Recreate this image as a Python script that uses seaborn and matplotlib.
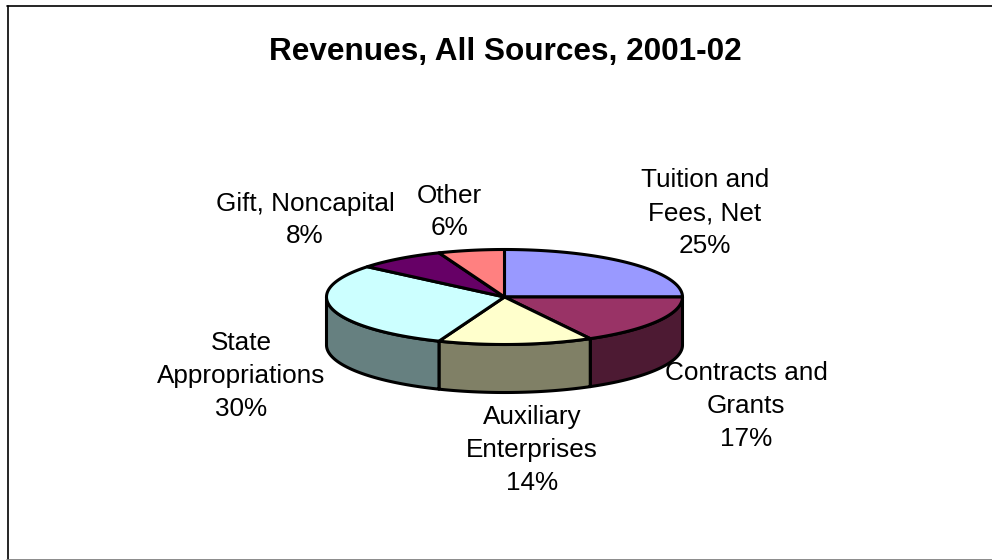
import numpy as np
import matplotlib
matplotlib.use("Agg")
import matplotlib.pyplot as plt
from matplotlib.lines import Line2D
from matplotlib.patches import Polygon
import seaborn as sns

# Revenue shares, clockwise from twelve o'clock
categories = ["Tuition and\nFees, Net", "Contracts and\nGrants", "Auxiliary\nEnterprises",
              "State\nAppropriations", "Gift, Noncapital", "Other"]
shares = [25, 17, 14, 30, 8, 6]
top_colors = ["#9999FF", "#993366", "#FFFFCC", "#CCFFFF", "#660066", "#FF8080"]
title = "Revenues, All Sources, 2001-02"

W, H = 992, 560
CX, CY, RX, RY = 504.5, 297, 178, 47.5
DEPTH_PX = 48
label_centres = [(705, 213), (746, 406), (532, 450), (241, 376), (305, 220), (449, 212)]

sns.set_theme(style="white")
plt.rcParams["font.family"] = ["Liberation Sans", "DejaVu Sans"]
palette = sns.color_palette(top_colors)
side_palette = [tuple(c * 0.5 for c in col) for col in palette]

fig = plt.figure(figsize=(W / 100, H / 100), dpi=100, facecolor="white")
ax = fig.add_axes([(CX - RX) / W, 1 - (CY + RY) / H, 2 * RX / W, 2 * RY / H])
ax.set_xlim(-1, 1)
ax.set_ylim(-1, 1)
ax.axis("off")
depth = DEPTH_PX / RY
EDGE = dict(edgecolor="black", linewidth=2.2, joinstyle="round", clip_on=False)


def rim(a0, a1):
    t = np.radians(np.linspace(a0, a1, max(int(abs(a1 - a0)) * 2, 2)))
    return np.column_stack([np.sin(t), np.cos(t)])


edges = np.cumsum([0] + shares) / sum(shares) * 360

# Outer wall: only the front half of the cylinder faces the viewer
for i in range(len(shares)):
    a0, a1 = max(edges[i], 90), min(edges[i + 1], 270)
    if a1 <= a0:
        continue
    upper = rim(a0, a1)
    lower = upper[::-1] - [0, depth]
    ax.add_patch(Polygon(np.vstack([upper, lower]), closed=True,
                         facecolor=side_palette[i], zorder=2, **EDGE))

# Top face
for i in range(len(shares)):
    pts = np.vstack([[0, 0], rim(edges[i], edges[i + 1])])
    ax.add_patch(Polygon(pts, closed=True, facecolor=palette[i], zorder=3, **EDGE))

fig.text(505 / W, 1 - 52 / H, title, ha="center", va="center",
         fontsize=22.7, fontweight="bold", color="black")

for name, share, (x, y) in zip(categories, shares, label_centres):
    fig.text(x / W, 1 - y / H, f"{name}\n{share}%", ha="center", va="center",
             fontsize=18.8, color="black", linespacing=1.46, multialignment="center")

# Chart-area border (left and top dark, bottom lighter)
fig.add_artist(Line2D([7.5 / W, 7.5 / W], [1 - 5.5 / H, 1 - 559 / H], color="black", lw=1.2))
fig.add_artist(Line2D([7 / W, 1], [1 - 5.5 / H, 1 - 5.5 / H], color="black", lw=1.2))
fig.add_artist(Line2D([7 / W, 1], [1 - 559.5 / H, 1 - 559.5 / H], color="#777777", lw=1.2))

fig.savefig("out.png", dpi=100, facecolor="white")
